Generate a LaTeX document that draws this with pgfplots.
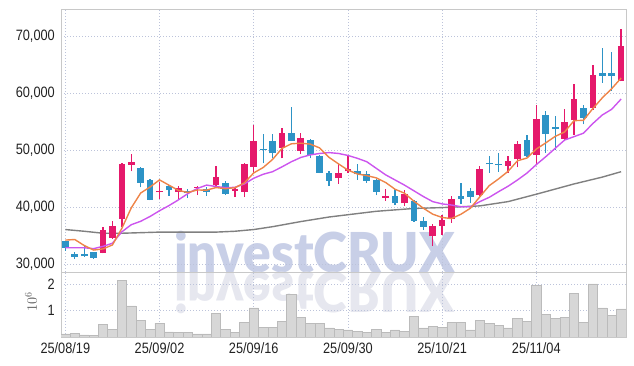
\documentclass[border=0pt]{standalone}
\usepackage{fontspec}
\setmainfont{Liberation Sans}
\newfontfamily\wmfont{Lato Black}
\usepackage{pgfplots}
\pgfplotsset{compat=1.18}
\usepackage{pgfplotstable}
\definecolor{upc}{HTML}{E5196B}
\definecolor{dnc}{HTML}{2D93C6}
\definecolor{ma5c}{HTML}{EE8448}
\definecolor{ma20c}{HTML}{CC55EE}
\definecolor{ma60c}{HTML}{808080}
\definecolor{gridc}{HTML}{BCC3DA}
\definecolor{framec}{HTML}{C8C8C8}
\definecolor{tickc}{HTML}{222222}
\definecolor{volf}{HTML}{D7D7D7}
\definecolor{vold}{HTML}{BBBBBB}
\definecolor{wmc}{HTML}{C8CFE7}
\definecolor{wmr}{HTML}{E6E7EF}
\newcommand\tickfont{\fontsize{15}{15}\selectfont}
\newcommand\sq[1]{\scalebox{0.85}[1]{#1}}

\pgfplotstableread{
i o c h l
4 32050 36000 36500 31900
5 34700 36700 37600 34500
6 38000 47600 47700 36600
7 47500 47950 49300 46300
10 42600 42900 44500 41500
12 42650 43350 43750 41500
14 43350 43500 43750 42150
16 44000 45300 47200 43800
18 42900 43300 43500 41800
19 42750 47650 47800 41800
20 47150 51600 54400 45800
23 50450 53000 53850 48600
25 49950 52100 53100 49350
29 45100 46000 47700 44100
30 46300 46650 49200 46100
34 41650 41950 43150 41150
36 40700 42350 43050 40250
39 35000 36700 37000 33200
40 36700 37750 38600 35200
41 38000 41450 41900 37300
44 42150 46700 47250 42000
47 47250 48100 49050 46100
48 48400 51100 51700 47000
50 49200 55450 57950 47400
53 52000 55000 57200 51800
54 55300 59000 61650 52700
56 57450 63200 65000 57050
59 62200 68300 71250 62100
}\upT

\pgfplotstableread{
i o c h l
0 34100 32900 34150 32350
1 31800 31350 32200 30900
2 31800 31400 33200 31300
3 32150 31150 32200 30950
8 46900 44300 47000 43500
9 44800 41300 44900 41200
11 43800 43000 43900 42000
13 42800 42450 43150 41600
15 43250 42750 43500 42050
17 44250 42350 44550 42200
21 50050 50000 52800 47700
22 51650 49450 52800 48600
24 53000 51700 57550 51600
26 51800 49200 51900 48600
27 49000 46100 49100 46000
28 46000 44700 46400 43800
31 46350 45800 47550 44800
32 45900 44650 46350 44350
33 44800 42750 44900 42100
35 42000 40700 43150 40400
37 41100 37650 41300 37450
38 37650 36600 38350 36000
42 42000 41450 44200 40550
43 42850 41850 43350 40800
45 47650 47550 49000 46100
46 47600 47400 49450 46250
49 51800 49050 52700 48900
51 56200 52850 56950 49600
52 54150 53750 56000 50050
55 57350 55700 57950 54550
57 63500 63100 67900 61850
58 63500 63100 67300 60450
}\dnT

\pgfplotstableread{
i m5 m20
0 34250 32900
1 34350 32900
2 33300 32900
3 32500 32750
4 32700 33150
5 33400 33700
6 36300 35700
7 39900 36950
8 42510 37550
9 43570 38400
10 44810 39400
11 43890 40300
12 42970 41300
13 42600 42400
14 43040 43300
15 43010 43900
16 43470 43650
17 43270 43450
18 43440 43500
19 44270 44100
20 46040 45100
21 46980 45800
22 48400 46250
23 50340 47100
24 51150 48000
25 51250 48750
26 51090 49200
27 50420 49450
28 48760 49600
29 47620 49450
30 46530 49100
31 45850 48600
32 45560 48000
33 45170 46850
34 44360 45700
35 43170 44800
36 42480 43900
37 41080 42900
38 39850 41900
39 38800 41000
40 38210 40600
41 38030 40400
42 38790 40100
43 39840 40100
44 41840 41000
45 43800 41750
46 44990 42750
47 46320 43700
48 48170 44800
49 48640 46000
50 50220 47500
51 51310 48880
52 52440 50350
53 53220 51800
54 55210 52400
55 55260 53000
56 57330 54700
57 59200 56200
58 60820 57200
59 62680 59000
}\maT

\pgfplotstableread{
i v
0 0.12
1 0.13
2 0.08
3 0.05
4 0.48
5 0.30
6 2.14
7 1.17
8 0.63
9 0.30
10 0.52
11 0.19
12 0.16
13 0.16
14 0.12
15 0.12
16 0.88
17 0.30
18 0.16
19 0.55
20 1.10
21 0.37
22 0.37
23 0.59
24 1.60
25 0.73
26 0.52
27 0.52
28 0.34
29 0.30
30 0.27
31 0.20
32 0.16
33 0.30
34 0.16
35 0.27
36 0.20
37 0.77
38 0.34
39 0.41
40 0.37
41 0.55
42 0.55
43 0.27
44 0.63
45 0.52
46 0.45
47 0.34
48 0.70
49 0.59
50 1.93
51 0.84
52 0.70
53 0.73
54 1.64
55 0.55
56 2.00
57 1.10
58 0.81
59 1.06
}\volT

\pgfplotsset{
  chartbase/.style={
    scale only axis, width=565pt,
    xmin=-0.46, xmax=59.52,
    xtick={0,10,20,30,40,50},
    grid=major,
    grid style={gridc, line width=0.6pt, dash pattern=on 1pt off 2pt},
    major tick length=0pt,
    axis line style={draw=framec, line width=0.8pt},
    yticklabel style={font=\tickfont, text=tickc, anchor=east, inner sep=0pt, xshift=-6pt},
    xticklabel style={font=\tickfont, text=tickc, anchor=north, inner sep=0pt, yshift=-5pt},
    scaled y ticks=false,
  },
  candle/.style={draw=none, mark=none, forget plot, error bars/.cd, y dir=plus, y explicit, error mark=none},
}

\begin{document}
\begin{tikzpicture}[x=1pt,y=1pt]
\useasboundingbox (0,0) rectangle (634,366);
% watermark and its reflection
\node[anchor=base, inner sep=0pt, text=wmc, font=\wmfont\fontsize{55}{55}\selectfont, xscale=0.935] at (314.5,93.3) {investCRUX};
\node[anchor=base, inner sep=0pt, text=wmr, font=\wmfont\fontsize{55}{55}\selectfont, xscale=0.935, yscale=-1] at (314.5,93.3) {investCRUX};

\begin{axis}[chartbase,
  at={(61pt,94pt)}, anchor=south west, height=263pt,
  ymin=28650, ymax=74800,
  xticklabels={},
  ytick={30000,40000,50000,60000,70000},
  yticklabels={{\sq{30,000}},{\sq{40,000}},{\sq{50,000}},{\sq{60,000}},{\sq{70,000}}},
]
\addplot[color=ma60c, line width=1.4pt] coordinates {
 (0,36100) (2,35800) (4,35450) (6,35450) (8,35550) (10,35650) (13,35650) (16,35650)
 (18,35800) (20,36100) (22,36600) (25,37500) (28,38300) (30,38700) (33,39300)
 (37,39800) (40,39950) (44,40250) (47,41000) (50,42300) (54,44100) (57,45300) (59,46250)};
% wicks
\addplot[candle, error bar style={draw=upc, line width=1.3pt}]
  table[x=i, y=l, y error expr=\thisrow{h}-\thisrow{l}] {\upT};
\addplot[candle, error bar style={draw=dnc, line width=1.3pt}]
  table[x=i, y=l, y error expr=\thisrow{h}-\thisrow{l}] {\dnT};
% bodies
\addplot[candle, error bar style={draw=upc, line width=6.7pt}]
  table[x=i, y=o, y error expr={max(\thisrow{c}-\thisrow{o},200)}] {\upT};
\addplot[candle, error bar style={draw=dnc, line width=6.7pt}]
  table[x=i, y=c, y error expr={max(\thisrow{o}-\thisrow{c},200)}] {\dnT};
% moving averages
\addplot[color=ma20c, line width=1.4pt, mark=none] table[x=i, y=m20] {\maT};
\addplot[color=ma5c, line width=1.4pt, mark=none] table[x=i, y=m5] {\maT};
\end{axis}

\begin{axis}[chartbase,
  at={(61pt,29pt)}, anchor=south west, height=65pt,
  ymin=0, ymax=2.45,
  ytick={1,2}, yticklabels={{\sq{1}},{\sq{2}}},
  xticklabels={{\sq{25/08/19}},{\sq{25/09/02}},{\sq{25/09/16}},{\sq{25/09/30}},{\sq{25/10/21}},{\sq{25/11/04}}},
  ybar, bar width=1,
  ylabel={$10^6$},
  ylabel style={at={(rel axis cs:-0.053,0.54)}, anchor=center, rotate=0, text=black!65, font=\fontsize{14}{14}\selectfont},
]
\addplot[fill=volf, draw=vold, line width=0.6pt] table[x=i, y=v] {\volT};
\end{axis}
\end{tikzpicture}
\end{document}
